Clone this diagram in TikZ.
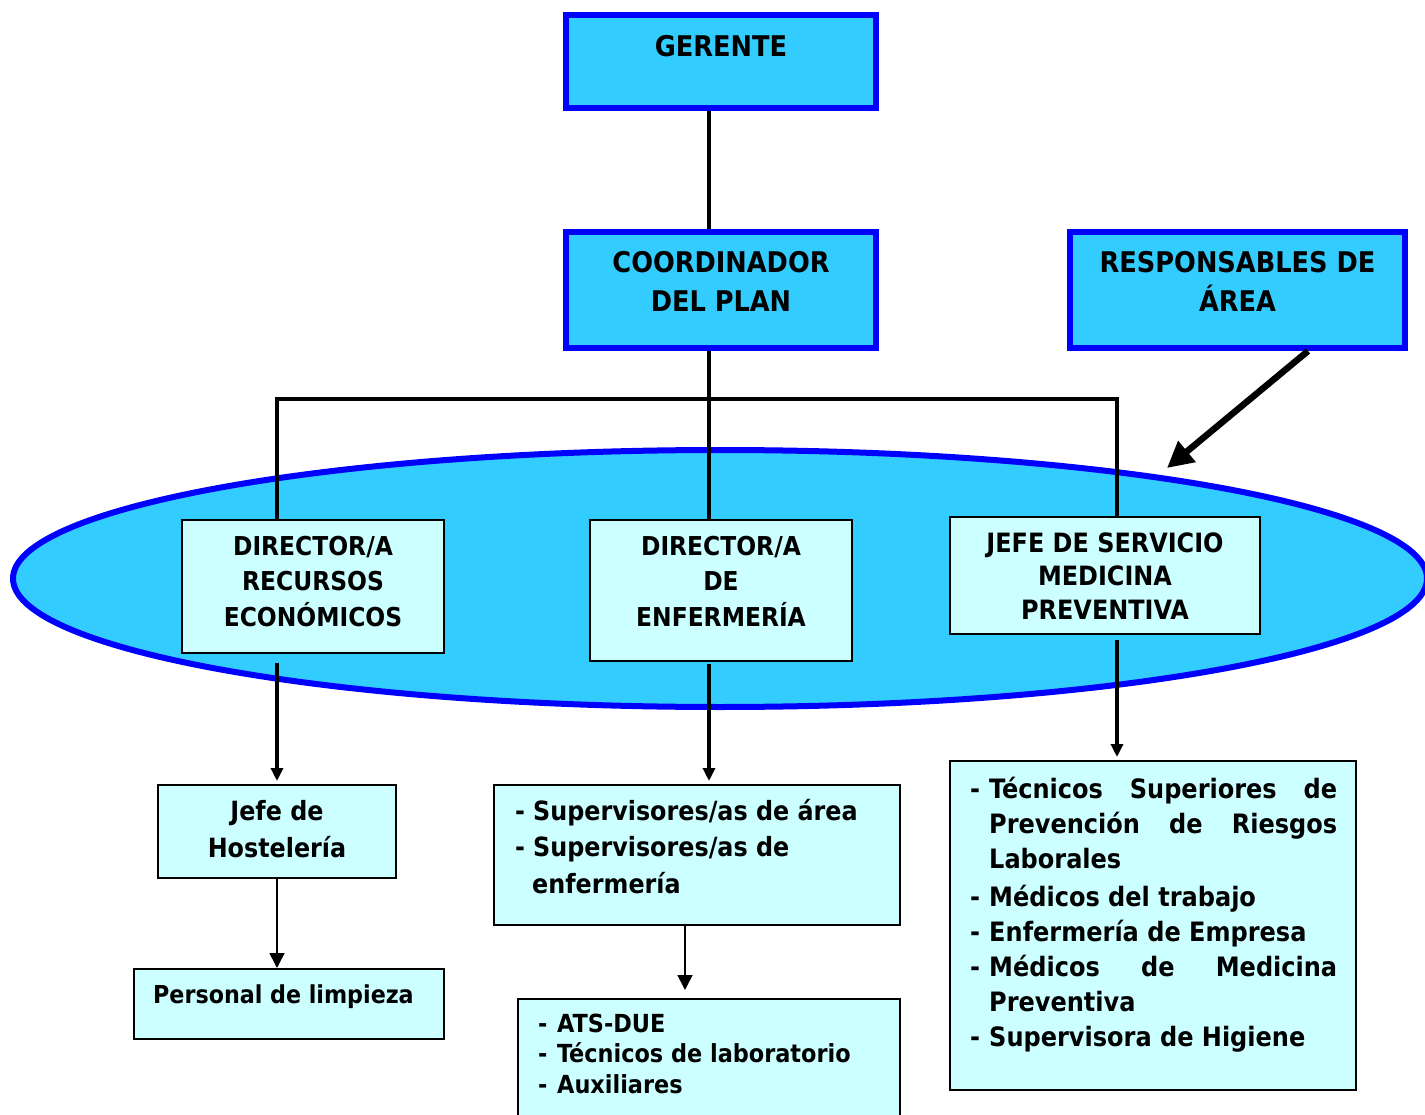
\documentclass[tikz,border=0pt]{standalone}
\usepackage{fontspec}
\setmainfont{DejaVu Sans Condensed}
\usetikzlibrary{arrows.meta,shapes.geometric,calc}
\definecolor{topfill}{HTML}{33CCFF}
\definecolor{edgeblue}{HTML}{0000FF}
\definecolor{lightfill}{HTML}{CCFFFF}
\tikzset{
  topbox/.style={draw=edgeblue,line width=6pt,fill=topfill,rectangle,inner sep=0pt},
  lightbox/.style={draw=black,line width=2pt,fill=lightfill,rectangle,inner sep=0pt},
  oval/.style={ellipse,draw=edgeblue,line width=6pt,fill=topfill,inner sep=0pt},
  conn/.style={line width=4pt,black},
  darr/.style={line width=4pt,black,-{Triangle[length=13pt,width=12pt]}},
  thinarr/.style={line width=1.6pt,black,-{Triangle[length=15pt,width=15pt]}},
  bigarr/.style={line width=6.5pt,black,-{Triangle[length=26pt,width=26pt]}},
  bigtxt/.style={font=\fontsize{28.5}{39}\selectfont\bfseries,inner sep=0pt,anchor=base},
  midtxt/.style={font=\fontsize{26}{35.5}\selectfont\bfseries,inner sep=0pt,anchor=base},
  lowtxt/.style={font=\fontsize{26.5}{36}\selectfont\bfseries,inner sep=0pt,anchor=base},
  smalltxt/.style={font=\fontsize{24.7}{30.5}\selectfont\bfseries,inner sep=0pt,anchor=base west},
}
\begin{document}
\begin{tikzpicture}[x=1pt,y=-1pt]
\useasboundingbox (0,0) rectangle (1425,1115);
% ellipse
\node[oval,minimum width=1414pt,minimum height=257pt] (oval) at (720,578.5) {};
% named free ends
\coordinate (bar) at (709,399);
\coordinate (ovaltip) at (1167,468);
% top boxes
\path
  node[topbox,minimum width=310pt,minimum height=93pt] (gerente) at (721,61.5) {}
  node[topbox,minimum width=310pt,minimum height=116pt] (coord) at (721,290) {}
  node[topbox,minimum width=335pt,minimum height=116pt] (resp) at (1237.5,290) {};
% connectors
\draw[conn] ([xshift=-12pt]gerente.south) -- ([xshift=-12pt]coord.north);
\draw[conn] ([xshift=-12pt]coord.south) -- (709,519);
\draw[conn] (277,519) |- (bar) -| (1117,516);
\draw[bigarr] ([xshift=70.5pt]resp.south) -- (ovaltip);
% light boxes
\node[lightbox,minimum width=262pt,minimum height=133pt] (recursos) at (313,586.5) {};
\node[lightbox,minimum width=262pt,minimum height=141pt] (enf) at (721,590.5) {};
\node[lightbox,minimum width=310pt,minimum height=117pt] (jefeserv) at (1105,575.5) {};
\node[lightbox,minimum width=238pt,minimum height=93pt] (host) at (277,831.5) {};
\node[lightbox,minimum width=310pt,minimum height=70pt] (limp) at (289,1004) {};
\node[lightbox,minimum width=406pt,minimum height=140pt] (superv) at (697,855) {};
\node[lightbox,minimum width=382pt,minimum height=126pt] (ats) at (709,1062) {};
\node[lightbox,minimum width=406pt,minimum height=329pt] (tecn) at (1153,925.5) {};
% vertical arrows
\draw[darr] ([xshift=-36pt,yshift=-9pt]recursos.south) -- ([yshift=3pt]host.north);
\draw[darr] ([xshift=-12pt,yshift=-2pt]enf.south) -- ([xshift=12pt,yshift=3pt]superv.north);
\draw[darr] ([xshift=12pt,yshift=-5pt]jefeserv.south) -- ([xshift=-36pt,yshift=3pt]tecn.north);
\draw[thinarr] (host.south) -- ([xshift=-12pt]limp.north);
\draw[thinarr] ([xshift=-12pt]superv.south) -- ([xshift=-24pt,yshift=8pt]ats.north);
% texts
\node[bigtxt] (gerente-t) at (721,57) {GERENTE};
\node[bigtxt] (coord-t) at (721,273) {\begin{tabular}[t]{@{}c@{}}COORDINADOR\\DEL PLAN\end{tabular}};
\node[bigtxt] (resp-t) at (1237.5,273) {\begin{tabular}[t]{@{}c@{}}RESPONSABLES DE\\ÁREA\end{tabular}};
\node[midtxt] (recursos-t) at (313,555) {\begin{tabular}[t]{@{}c@{}}DIRECTOR/A\\RECURSOS\\ECONÓMICOS\end{tabular}};
\node[midtxt] (enf-t) at (721,555) {\begin{tabular}[t]{@{}c@{}}DIRECTOR/A\\DE\\ENFERMERÍA\end{tabular}};
\node[midtxt,font=\fontsize{26.6}{33.5}\selectfont\bfseries] (jefeserv-t) at (1105,552) {\begin{tabular}[t]{@{}c@{}}JEFE DE SERVICIO\\MEDICINA\\PREVENTIVA\end{tabular}};
\node[lowtxt,font=\fontsize{26.5}{37}\selectfont\bfseries] (host-t) at (277,820) {\begin{tabular}[t]{@{}c@{}}Jefe de\\Hostelería\end{tabular}};
\node[smalltxt] (limp-t) at (153,1003) {Personal de limpieza};
\node[lowtxt,anchor=base west] (superv-t) at (515,820) {\begin{tabular}[t]{@{}l@{}}\makebox[18pt][l]{-}Supervisores/as de área\\\makebox[18pt][l]{-}Supervisores/as de\\[1pt]\hspace{17pt}enfermería\end{tabular}};
\node[smalltxt,font=\fontsize{24.9}{30.5}\selectfont\bfseries] (ats-t) at (538,1032) {\begin{tabular}[t]{@{}l@{}}\makebox[19pt][l]{-}ATS-DUE\\\makebox[19pt][l]{-}Técnicos de laboratorio\\\makebox[19pt][l]{-}Auxiliares\end{tabular}};
\node[lowtxt,anchor=base west,font=\fontsize{26.7}{35}\selectfont\bfseries] (tecn-t) at (970,798) {\begin{tabular}[t]{@{}l@{}}\makebox[19pt][l]{-}\makebox[348pt][s]{Técnicos\hfill Superiores\hfill de}\\
\hspace{19pt}\makebox[348pt][s]{Prevención\hfill de\hfill Riesgos}\\
\hspace{19pt}Laborales\\[3pt]
\makebox[19pt][l]{-}Médicos del trabajo\\
\makebox[19pt][l]{-}Enfermería de Empresa\\
\makebox[19pt][l]{-}\makebox[348pt][s]{Médicos\hfill de\hfill Medicina}\\
\hspace{19pt}Preventiva\\
\makebox[19pt][l]{-}Supervisora de Higiene\end{tabular}};
\end{tikzpicture}
\end{document}
